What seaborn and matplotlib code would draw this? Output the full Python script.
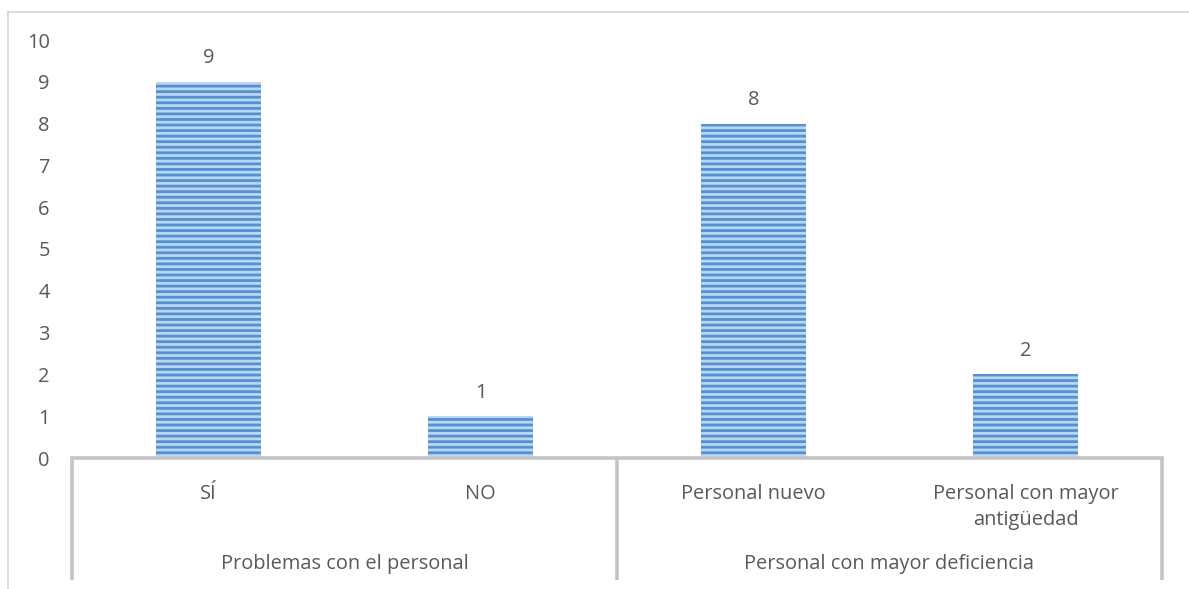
import matplotlib
matplotlib.use("Agg")
import matplotlib.pyplot as plt
import matplotlib.lines as mlines
import seaborn as sns
import pandas as pd

# Survey results: staff problems and which staff shows more deficiencies
categories = ["SÍ", "NO", "Personal nuevo", "Personal con mayor\nantigüedad"]
values = [9, 1, 8, 2]
groups = ["Problemas con el personal", "Personal con mayor deficiencia"]
group_sizes = [2, 2]
y_ticks = list(range(0, 11))

df = pd.DataFrame({"categoria": categories, "valor": values})

sns.set_theme(style="white")
plt.rcParams["font.family"] = ["Open Sans", "DejaVu Sans"]
plt.rcParams["hatch.color"] = "#5591d0"
plt.rcParams["hatch.linewidth"] = 2.0

W, H = 1189, 589
fig = plt.figure(figsize=(W / 100, H / 100), dpi=100)
ax = fig.add_axes([72 / W, (H - 458) / H, (1162 - 72) / W, (458 - 40) / H])

text_color = "#595959"
line_color = "#c4c4c4"
fs = 14.4

sns.barplot(data=df, x="categoria", y="valor", ax=ax, width=0.385,
            color="#b9d6f3", edgecolor="none", saturation=1)
for p in ax.patches:
    p.set_hatch("---")
    p.set_edgecolor("#5591d0")
    p.set_linewidth(0)

for i, v in enumerate(values):
    ax.text(i, v + 0.32, f"{v}", ha="center", va="bottom",
            fontsize=fs, color=text_color)

ax.set_xlim(-0.5, len(categories) - 0.5)
ax.set_ylim(0, 10)
ax.set_yticks(y_ticks)
ax.set_yticklabels([str(t) for t in y_ticks], fontsize=fs, color=text_color)
ax.tick_params(axis="y", length=0, pad=16)
ax.set_xticks(range(len(categories)))
ax.set_xticklabels(categories, fontsize=fs, color=text_color, linespacing=1.35)
ax.tick_params(axis="x", length=0, pad=19)
ax.set_xlabel("")
ax.set_ylabel("")

for side in ["top", "right", "left"]:
    ax.spines[side].set_visible(False)
ax.spines["bottom"].set_color(line_color)
ax.spines["bottom"].set_linewidth(2.6)

# Group separators below the axis
sep_bottom = -(580 - 458) / (458 - 40)
trans = ax.get_xaxis_transform()
pos = -0.5
bounds = [pos]
for n in group_sizes:
    pos += n
    bounds.append(pos)
for b in bounds:
    ax.plot([b, b], [0, sep_bottom], transform=trans, color=line_color,
            lw=2.6, clip_on=False, solid_capstyle="butt")

group_y = -(564 - 458) / (458 - 40)
start = -0.5
for g, n in zip(groups, group_sizes):
    ax.text(start + n / 2, group_y, g, transform=trans, ha="center", va="center",
            fontsize=fs, color=text_color)
    start += n

# Outer chart frame (top and left edges)
fig.add_artist(mlines.Line2D([8 / W, 1.0], [1 - 12 / H, 1 - 12 / H],
                             color="#d9d9d9", lw=1.3, transform=fig.transFigure))
fig.add_artist(mlines.Line2D([8 / W, 8 / W], [0.0, 1 - 12 / H],
                             color="#d9d9d9", lw=1.3, transform=fig.transFigure))

fig.savefig("out.png", dpi=100, facecolor="white")
